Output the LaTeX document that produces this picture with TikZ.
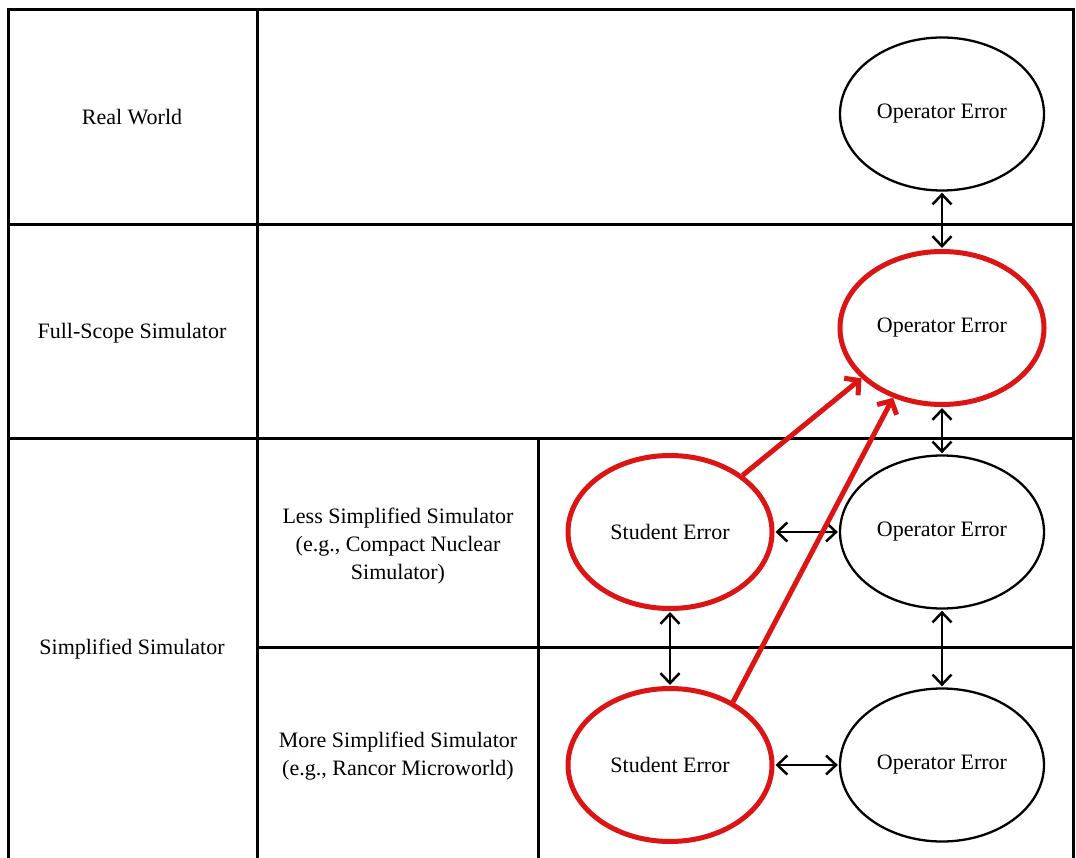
\documentclass[tikz,border=0pt]{standalone}
\usepackage{fontspec}
\setmainfont{Liberation Serif}
\usetikzlibrary{shapes.geometric,arrows.meta}
\definecolor{errred}{RGB}{220,20,20}
\tikzset{
  grid/.style={line width=3pt, line cap=rect},
  lbl/.style={font=\fontsize{22}{28}\selectfont, align=center, inner sep=0pt},
  errnode/.style={ellipse, draw, line width=2.3pt, minimum width=204pt, minimum height=153pt, inner sep=0pt,
    font=\fontsize{22}{28}\selectfont},
  rednode/.style={errnode, draw=errred, line width=5pt},
  link/.style={line width=2.3pt, {Straight Barb[length=10pt,width=19pt,line width=2.5pt]}-{Straight Barb[length=10pt,width=19pt,line width=2.5pt]}, shorten <=1pt, shorten >=1pt},
  redlink/.style={line width=5pt, draw=errred, -{Straight Barb[length=10pt,width=22pt,line width=5pt]}}
}
\begin{document}
\begin{tikzpicture}[x=1pt,y=-1pt]
\useasboundingbox[fill=white] (0,0) rectangle (1076,858);
% table grid
\draw[grid] (8,858) -- (8,10) -- (1073,10) -- (1073,858);
\draw[grid] (257,10) -- (257,858);
\draw[grid] (538,438) -- (538,858);
\draw[grid] (8,225) -- (1073,225);
\draw[grid] (8,438) -- (1073,438);
\draw[grid] (257,647) -- (1073,647);
% row labels
\node[lbl] (rw) at (132,117) {Real World};
\node[lbl] (fs) at (132,333) {Full-Scope Simulator};
\node[lbl] (ss) at (132,649) {Simplified Simulator};
\node[lbl] (ls) at (398,546) {Less Simplified Simulator\\(e.g., Compact Nuclear\\Simulator)};
\node[lbl] (ms) at (398,756) {More Simplified Simulator\\(e.g., Rancor Microworld)};
% ellipses
\node[errnode] (oe1) at (942,114) {Operator Error};
\node[rednode] (oe2) at (942,328) {Operator Error};
\node[errnode] (oe3) at (942,532) {Operator Error};
\node[errnode] (oe4) at (942,765) {Operator Error};
\node[rednode] (se1) at (670,532) {Student Error};
\node[rednode] (se2) at (670,765) {Student Error};
% black links
\draw[link] (oe1.south) -- (oe2.north);
\draw[link] (oe2.south) -- (oe3.north);
\draw[link] (oe3.south) -- (oe4.north);
\draw[link] (se1.south) -- (se2.north);
\draw[link] (se1.east) -- (oe3.west);
\draw[link] (se2.east) -- (oe4.west);
% red links
\draw[redlink] (se1.38) -- (oe2.212);
\draw[redlink] (se2.45) -- (oe2.235);
\end{tikzpicture}
\end{document}
